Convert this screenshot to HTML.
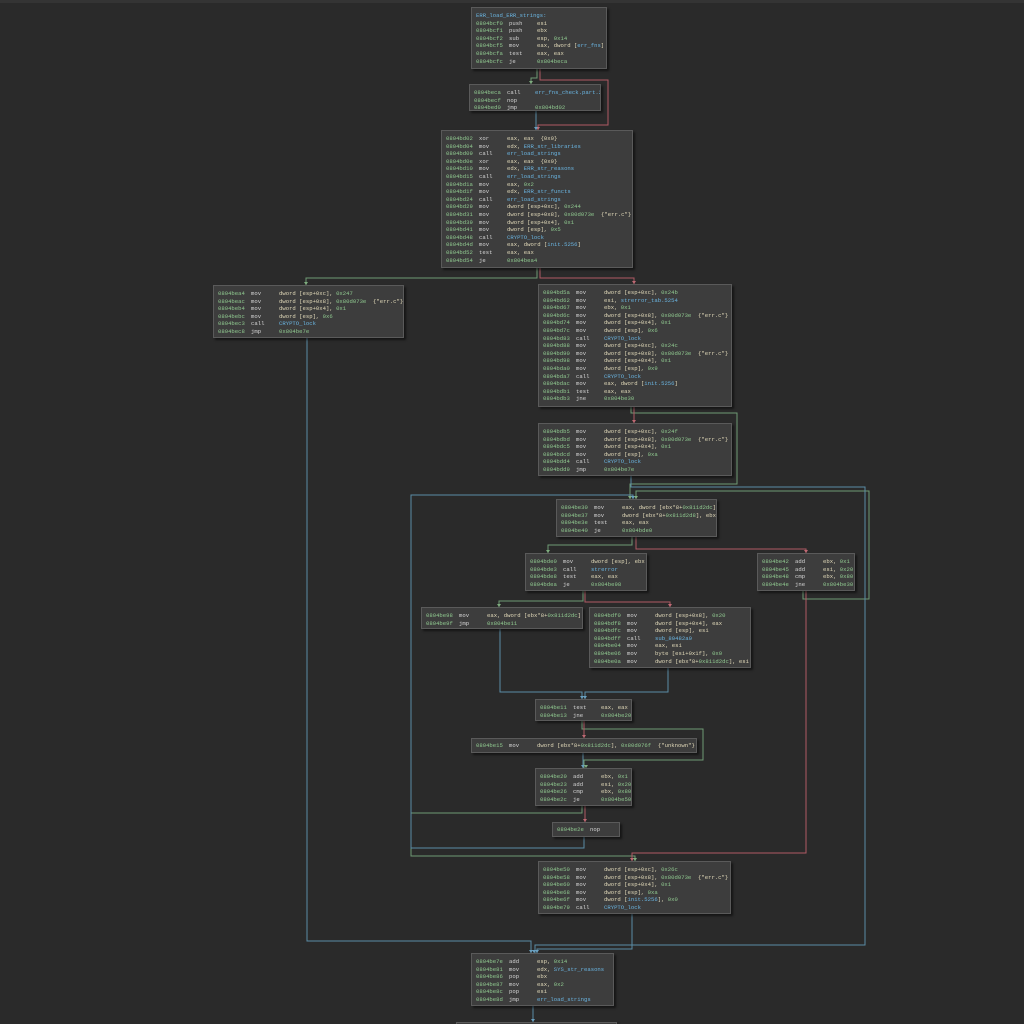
<!DOCTYPE html>
<html><head><meta charset="utf-8">
<style>
html,body{margin:0;padding:0;width:1024px;height:1024px;overflow:hidden;background:#2a2a2a;position:relative;}
.top{position:absolute;left:0;top:0;width:1024px;height:3px;background:#343434;}
.b{position:absolute;background:#3d3d3d;border:1px solid #5a5a5a;box-shadow:2px 2px 2px rgba(0,0,0,0.5);
 font-family:"Liberation Mono",monospace;font-size:5.6px;line-height:7.6px;color:#cfcfcf;padding:4px 4px 4px 4px;box-sizing:border-box;white-space:nowrap;overflow:hidden;}
.b div{height:7.6px;white-space:pre;}
.a{display:inline-block;width:33px;color:#8fc88f;}
.m{display:inline-block;width:28px;color:#d4d4d4;}
.o{color:#e0d8b8;}
.n{color:#6ab4e0;}
.g{color:#8fc88f;}
svg{position:absolute;left:0;top:0;}
</style></head><body>
<div class="top"></div>
<svg width="1024" height="1024" viewBox="0 0 1024 1024">
<g fill="none" stroke-width="1">
<g stroke="#6f9a74">
<polyline points="537,69 537,78 531,78 531,84"/>
<polyline points="537,268 537,278 306,278 306,285"/>
<polyline points="631,406 631,413 737,413 737,484 630,484 630,499"/>
<polyline points="803,590 803,599 869,599 869,491 636,491 636,499"/>
<polyline points="632,537 632,545 548,545 548,553"/>
<polyline points="583,590 583,601 499,601 499,607"/>
<polyline points="582,721 582,729 703,729 703,760 584,760 584,768"/>
<polyline points="582,806 582,813 411,813 411,856 635,856 635,861"/>
</g>
<g stroke="#b05a64">
<polyline points="540,69 540,80 608,80 608,125 538,125 538,130"/>
<polyline points="540,268 540,278 634,278 634,284"/>
<polyline points="634,406 634,423"/>
<polyline points="636,537 636,549 806,549 806,553"/>
<polyline points="585,590 585,602 670,602 670,607"/>
<polyline points="806,590 806,853 632,853 632,861"/>
<polyline points="584,721 584,738"/>
<polyline points="585,806 585,822"/>
</g>
<g stroke="#5a8ca6">
<polyline points="536,110 536,130"/>
<polyline points="307,337 307,941 531,941 531,953"/>
<polyline points="631,476 631,487 865,487 865,945 535,945 535,953"/>
<polyline points="500,628 500,692 582,692 582,699"/>
<polyline points="668,668 668,692 585,692 585,699"/>
<polyline points="583,752 583,768"/>
<polyline points="584,836 584,848 411,848 411,495 633,495 633,499"/>
<polyline points="632,914 632,949 537,949 537,953"/>
<polyline points="533,1006 533,1022"/>
</g>
</g>
<g>
<path d="M529,81 l4,0 l-2,3z" fill="#7fae7f"/>
<path d="M536,127 l4,0 l-2,3z" fill="#c06a74"/>
<path d="M534,127 l4,0 l-2,3z" fill="#6aa0c0"/>
<path d="M304,282 l4,0 l-2,3z" fill="#7fae7f"/>
<path d="M632,281 l4,0 l-2,3z" fill="#c06a74"/>
<path d="M632,420 l4,0 l-2,3z" fill="#c06a74"/>
<path d="M628,496 l4,0 l-2,3z" fill="#7fae7f"/>
<path d="M631,496 l4,0 l-2,3z" fill="#6aa0c0"/>
<path d="M634,496 l4,0 l-2,3z" fill="#7fae7f"/>
<path d="M546,550 l4,0 l-2,3z" fill="#7fae7f"/>
<path d="M804,550 l4,0 l-2,3z" fill="#c06a74"/>
<path d="M497,604 l4,0 l-2,3z" fill="#7fae7f"/>
<path d="M668,604 l4,0 l-2,3z" fill="#c06a74"/>
<path d="M580,696 l4,0 l-2,3z" fill="#6aa0c0"/>
<path d="M583,696 l4,0 l-2,3z" fill="#6aa0c0"/>
<path d="M582,735 l4,0 l-2,3z" fill="#c06a74"/>
<path d="M581,765 l4,0 l-2,3z" fill="#6aa0c0"/>
<path d="M584,765 l4,0 l-2,3z" fill="#7fae7f"/>
<path d="M583,819 l4,0 l-2,3z" fill="#c06a74"/>
<path d="M630,858 l4,0 l-2,3z" fill="#c06a74"/>
<path d="M633,858 l4,0 l-2,3z" fill="#7fae7f"/>
<path d="M529,950 l4,0 l-2,3z" fill="#6aa0c0"/>
<path d="M532,950 l4,0 l-2,3z" fill="#6aa0c0"/>
<path d="M535,950 l4,0 l-2,3z" fill="#6aa0c0"/>
<path d="M531,1019 l4,0 l-2,3z" fill="#6aa0c0"/>
</g>
</svg>

<div class="b" style="left:471px;top:7px;width:136px;height:62px;"><div class="n">ERR_load_ERR_strings:</div><div><span class="a">0804bcf0</span><span class="m">push</span><span class="o">esi</span></div><div><span class="a">0804bcf1</span><span class="m">push</span><span class="o">ebx</span></div><div><span class="a">0804bcf2</span><span class="m">sub</span><span class="o">esp, <span class="g">0x14</span></span></div><div><span class="a">0804bcf5</span><span class="m">mov</span><span class="o">eax, dword [<span class="n">err_fns</span>]</span></div><div><span class="a">0804bcfa</span><span class="m">test</span><span class="o">eax, eax</span></div><div><span class="a">0804bcfc</span><span class="m">je</span><span class="g">0x804beca</span></div></div>

<div class="b" style="left:469px;top:84px;width:132px;height:27px;"><div><span class="a">0804beca</span><span class="m">call</span><span class="n">err_fns_check.part.2</span></div><div><span class="a">0804becf</span><span class="m">nop</span></div><div><span class="a">0804bed0</span><span class="m">jmp</span><span class="g">0x804bd02</span></div></div>

<div class="b" style="left:441px;top:130px;width:192px;height:138px;"><div><span class="a">0804bd02</span><span class="m">xor</span><span class="o">eax, eax  {0x0}</span></div><div><span class="a">0804bd04</span><span class="m">mov</span><span class="o">edx, <span class="n">ERR_str_libraries</span></span></div><div><span class="a">0804bd09</span><span class="m">call</span><span class="n">err_load_strings</span></div><div><span class="a">0804bd0e</span><span class="m">xor</span><span class="o">eax, eax  {0x0}</span></div><div><span class="a">0804bd10</span><span class="m">mov</span><span class="o">edx, <span class="n">ERR_str_reasons</span></span></div><div><span class="a">0804bd15</span><span class="m">call</span><span class="n">err_load_strings</span></div><div><span class="a">0804bd1a</span><span class="m">mov</span><span class="o">eax, <span class="g">0x2</span></span></div><div><span class="a">0804bd1f</span><span class="m">mov</span><span class="o">edx, <span class="n">ERR_str_functs</span></span></div><div><span class="a">0804bd24</span><span class="m">call</span><span class="n">err_load_strings</span></div><div><span class="a">0804bd29</span><span class="m">mov</span><span class="o">dword [esp+0xc], <span class="g">0x244</span></span></div><div><span class="a">0804bd31</span><span class="m">mov</span><span class="o">dword [esp+0x8], <span class="g">0x80d073e</span>  {"err.c"}</span></div><div><span class="a">0804bd39</span><span class="m">mov</span><span class="o">dword [esp+0x4], <span class="g">0x1</span></span></div><div><span class="a">0804bd41</span><span class="m">mov</span><span class="o">dword [esp], <span class="g">0x5</span></span></div><div><span class="a">0804bd48</span><span class="m">call</span><span class="n">CRYPTO_lock</span></div><div><span class="a">0804bd4d</span><span class="m">mov</span><span class="o">eax, dword [<span class="n">init.5256</span>]</span></div><div><span class="a">0804bd52</span><span class="m">test</span><span class="o">eax, eax</span></div><div><span class="a">0804bd54</span><span class="m">je</span><span class="g">0x804bea4</span></div></div>

<div class="b" style="left:213px;top:285px;width:191px;height:53px;"><div><span class="a">0804bea4</span><span class="m">mov</span><span class="o">dword [esp+0xc], <span class="g">0x247</span></span></div><div><span class="a">0804beac</span><span class="m">mov</span><span class="o">dword [esp+0x8], <span class="g">0x80d073e</span>  {"err.c"}</span></div><div><span class="a">0804beb4</span><span class="m">mov</span><span class="o">dword [esp+0x4], <span class="g">0x1</span></span></div><div><span class="a">0804bebc</span><span class="m">mov</span><span class="o">dword [esp], <span class="g">0x6</span></span></div><div><span class="a">0804bec3</span><span class="m">call</span><span class="n">CRYPTO_lock</span></div><div><span class="a">0804bec8</span><span class="m">jmp</span><span class="g">0x804be7e</span></div></div>

<div class="b" style="left:538px;top:284px;width:194px;height:123px;"><div><span class="a">0804bd5a</span><span class="m">mov</span><span class="o">dword [esp+0xc], <span class="g">0x24b</span></span></div><div><span class="a">0804bd62</span><span class="m">mov</span><span class="o">esi, <span class="n">strerror_tab.5254</span></span></div><div><span class="a">0804bd67</span><span class="m">mov</span><span class="o">ebx, <span class="g">0x1</span></span></div><div><span class="a">0804bd6c</span><span class="m">mov</span><span class="o">dword [esp+0x8], <span class="g">0x80d073e</span>  {"err.c"}</span></div><div><span class="a">0804bd74</span><span class="m">mov</span><span class="o">dword [esp+0x4], <span class="g">0x1</span></span></div><div><span class="a">0804bd7c</span><span class="m">mov</span><span class="o">dword [esp], <span class="g">0x6</span></span></div><div><span class="a">0804bd83</span><span class="m">call</span><span class="n">CRYPTO_lock</span></div><div><span class="a">0804bd88</span><span class="m">mov</span><span class="o">dword [esp+0xc], <span class="g">0x24c</span></span></div><div><span class="a">0804bd90</span><span class="m">mov</span><span class="o">dword [esp+0x8], <span class="g">0x80d073e</span>  {"err.c"}</span></div><div><span class="a">0804bd98</span><span class="m">mov</span><span class="o">dword [esp+0x4], <span class="g">0x1</span></span></div><div><span class="a">0804bda0</span><span class="m">mov</span><span class="o">dword [esp], <span class="g">0x9</span></span></div><div><span class="a">0804bda7</span><span class="m">call</span><span class="n">CRYPTO_lock</span></div><div><span class="a">0804bdac</span><span class="m">mov</span><span class="o">eax, dword [<span class="n">init.5256</span>]</span></div><div><span class="a">0804bdb1</span><span class="m">test</span><span class="o">eax, eax</span></div><div><span class="a">0804bdb3</span><span class="m">jne</span><span class="g">0x804be30</span></div></div>

<div class="b" style="left:538px;top:423px;width:194px;height:53px;"><div><span class="a">0804bdb5</span><span class="m">mov</span><span class="o">dword [esp+0xc], <span class="g">0x24f</span></span></div><div><span class="a">0804bdbd</span><span class="m">mov</span><span class="o">dword [esp+0x8], <span class="g">0x80d073e</span>  {"err.c"}</span></div><div><span class="a">0804bdc5</span><span class="m">mov</span><span class="o">dword [esp+0x4], <span class="g">0x1</span></span></div><div><span class="a">0804bdcd</span><span class="m">mov</span><span class="o">dword [esp], <span class="g">0xa</span></span></div><div><span class="a">0804bdd4</span><span class="m">call</span><span class="n">CRYPTO_lock</span></div><div><span class="a">0804bdd9</span><span class="m">jmp</span><span class="g">0x804be7e</span></div></div>

<div class="b" style="left:556px;top:499px;width:161px;height:38px;"><div><span class="a">0804be30</span><span class="m">mov</span><span class="o">eax, dword [ebx*8+<span class="g">0x811d2dc</span>]</span></div><div><span class="a">0804be37</span><span class="m">mov</span><span class="o">dword [ebx*8+<span class="g">0x811d2d8</span>], ebx</span></div><div><span class="a">0804be3e</span><span class="m">test</span><span class="o">eax, eax</span></div><div><span class="a">0804be40</span><span class="m">je</span><span class="g">0x804bde0</span></div></div>

<div class="b" style="left:525px;top:553px;width:122px;height:38px;"><div><span class="a">0804bde0</span><span class="m">mov</span><span class="o">dword [esp], ebx</span></div><div><span class="a">0804bde3</span><span class="m">call</span><span class="n">strerror</span></div><div><span class="a">0804bde8</span><span class="m">test</span><span class="o">eax, eax</span></div><div><span class="a">0804bdea</span><span class="m">je</span><span class="g">0x804be98</span></div></div>

<div class="b" style="left:757px;top:553px;width:98px;height:38px;"><div><span class="a">0804be42</span><span class="m">add</span><span class="o">ebx, <span class="g">0x1</span></span></div><div><span class="a">0804be45</span><span class="m">add</span><span class="o">esi, <span class="g">0x20</span></span></div><div><span class="a">0804be48</span><span class="m">cmp</span><span class="o">ebx, <span class="g">0x80</span></span></div><div><span class="a">0804be4e</span><span class="m">jne</span><span class="g">0x804be30</span></div></div>

<div class="b" style="left:421px;top:607px;width:162px;height:22px;"><div><span class="a">0804be98</span><span class="m">mov</span><span class="o">eax, dword [ebx*8+<span class="g">0x811d2dc</span>]</span></div><div><span class="a">0804be9f</span><span class="m">jmp</span><span class="g">0x804be11</span></div></div>

<div class="b" style="left:589px;top:607px;width:162px;height:61px;"><div><span class="a">0804bdf0</span><span class="m">mov</span><span class="o">dword [esp+0x8], <span class="g">0x20</span></span></div><div><span class="a">0804bdf8</span><span class="m">mov</span><span class="o">dword [esp+0x4], eax</span></div><div><span class="a">0804bdfc</span><span class="m">mov</span><span class="o">dword [esp], esi</span></div><div><span class="a">0804bdff</span><span class="m">call</span><span class="n">sub_80482a0</span></div><div><span class="a">0804be04</span><span class="m">mov</span><span class="o">eax, esi</span></div><div><span class="a">0804be06</span><span class="m">mov</span><span class="o">byte [esi+0x1f], <span class="g">0x0</span></span></div><div><span class="a">0804be0a</span><span class="m">mov</span><span class="o">dword [ebx*8+<span class="g">0x811d2dc</span>], esi</span></div></div>

<div class="b" style="left:535px;top:699px;width:97px;height:22px;"><div><span class="a">0804be11</span><span class="m">test</span><span class="o">eax, eax</span></div><div><span class="a">0804be13</span><span class="m">jne</span><span class="g">0x804be20</span></div></div>

<div class="b" style="left:471px;top:738px;width:226px;height:15px;padding-top:3px;"><div><span class="a">0804be15</span><span class="m">mov</span><span class="o">dword [ebx*8+<span class="g">0x811d2dc</span>], <span class="g">0x80d076f</span>  {"unknown"}</span></div></div>

<div class="b" style="left:535px;top:768px;width:97px;height:38px;"><div><span class="a">0804be20</span><span class="m">add</span><span class="o">ebx, <span class="g">0x1</span></span></div><div><span class="a">0804be23</span><span class="m">add</span><span class="o">esi, <span class="g">0x20</span></span></div><div><span class="a">0804be26</span><span class="m">cmp</span><span class="o">ebx, <span class="g">0x80</span></span></div><div><span class="a">0804be2c</span><span class="m">je</span><span class="g">0x804be50</span></div></div>

<div class="b" style="left:552px;top:822px;width:68px;height:15px;padding-top:3px;"><div><span class="a">0804be2e</span><span class="m">nop</span></div></div>

<div class="b" style="left:538px;top:861px;width:193px;height:53px;"><div><span class="a">0804be50</span><span class="m">mov</span><span class="o">dword [esp+0xc], <span class="g">0x26c</span></span></div><div><span class="a">0804be58</span><span class="m">mov</span><span class="o">dword [esp+0x8], <span class="g">0x80d073e</span>  {"err.c"}</span></div><div><span class="a">0804be60</span><span class="m">mov</span><span class="o">dword [esp+0x4], <span class="g">0x1</span></span></div><div><span class="a">0804be68</span><span class="m">mov</span><span class="o">dword [esp], <span class="g">0xa</span></span></div><div><span class="a">0804be6f</span><span class="m">mov</span><span class="o">dword [<span class="n">init.5256</span>], <span class="g">0x0</span></span></div><div><span class="a">0804be79</span><span class="m">call</span><span class="n">CRYPTO_lock</span></div></div>

<div class="b" style="left:471px;top:953px;width:143px;height:53px;"><div><span class="a">0804be7e</span><span class="m">add</span><span class="o">esp, <span class="g">0x14</span></span></div><div><span class="a">0804be81</span><span class="m">mov</span><span class="o">edx, <span class="n">SYS_str_reasons</span></span></div><div><span class="a">0804be86</span><span class="m">pop</span><span class="o">ebx</span></div><div><span class="a">0804be87</span><span class="m">mov</span><span class="o">eax, <span class="g">0x2</span></span></div><div><span class="a">0804be8c</span><span class="m">pop</span><span class="o">esi</span></div><div><span class="a">0804be8d</span><span class="m">jmp</span><span class="n">err_load_strings</span></div></div>

<div class="b" style="left:456px;top:1022px;width:161px;height:2px;"></div>
</body></html>
